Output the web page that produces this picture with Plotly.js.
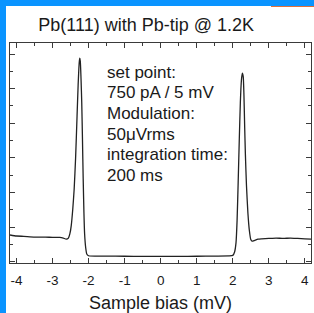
<!DOCTYPE html>
<html>
<head>
<meta charset="utf-8">
<script src="https://cdn.plot.ly/plotly-3.0.1.min.js"></script>
<style>
  html, body { margin: 0; padding: 0; width: 314px; height: 313px; overflow: hidden; background: #0a94ff; }
  #chart { position: absolute; left: 6px; top: 6px; width: 308px; height: 307px; background: #fff; }
  #strip { position: absolute; left: 271px; top: 6px; width: 43px; height: 1px; background: #e0703a; }
</style>
</head>
<body>
<div id="chart"></div>
<div id="strip"></div>
<script>
// Sample bias (mV)
const biasMV = [-4.18, -4.0, -3.8, -3.5, -3.2, -3.0, -2.8, -2.7, -2.62, -2.56, -2.52, -2.48, -2.44, -2.40, -2.36, -2.32, -2.29, -2.26, -2.245, -2.23, -2.21, -2.19, -2.17, -2.15, -2.13, -2.11, -2.08, -2.05, -2.00, -1.5, -1.0, -0.5, 0, 0.5, 1.0, 1.5, 1.9, 2.0, 2.05, 2.09, 2.12, 2.15, 2.18, 2.21, 2.24, 2.265, 2.29, 2.31, 2.33, 2.35, 2.38, 2.42, 2.46, 2.50, 2.54, 2.6, 2.7, 2.8, 3.0, 3.2, 3.4, 3.6, 3.8, 4.0, 4.17];
// dI/dV (arb. units)
const dIdV = [0.77, 0.74, 0.73, 0.71, 0.71, 0.70, 0.70, 0.68, 0.65, 0.68, 0.80, 1.05, 1.50, 2.10, 3.00, 4.20, 5.10, 5.75, 5.88, 5.80, 5.30, 4.60, 3.55, 2.40, 1.45, 0.80, 0.40, 0.22, 0.17, 0.16, 0.155, 0.15, 0.15, 0.15, 0.155, 0.16, 0.165, 0.18, 0.28, 0.55, 1.20, 2.30, 3.50, 4.60, 5.25, 5.45, 5.35, 4.80, 3.90, 3.10, 2.20, 1.40, 0.90, 0.64, 0.59, 0.61, 0.65, 0.66, 0.67, 0.68, 0.67, 0.68, 0.67, 0.66, 0.65];
const xTickVals = [-4, -3, -2, -1, 0, 1, 2, 3, 4];
const xTickText = ['-4', '-3', '-2', '-1', '0', '1', '2', '3', '4'];
const titleText = 'Pb(111) with Pb-tip @ 1.2K';
const xTitleText = 'Sample bias (mV)';
const noteLines = ['set point:', '750 pA / 5 mV', 'Modulation:', '50μVrms', 'integration time:', '200 ms'];

const FONT = 'Arial, "Liberation Sans", sans-serif';
const INK = '#1a1a1a';
const AX = '#3a3a3a';

const annotations = noteLines.map((t, i) => ({
  text: t, xref: 'paper', yref: 'paper',
  x: 0.316, y: (263 - (72 + i * 20.7)) / 220,
  xanchor: 'left', yanchor: 'middle', showarrow: false,
  font: {family: FONT, size: 17, color: INK}
}));

const trace = {
  x: biasMV, y: dIdV, type: 'scatter', mode: 'lines',
  line: {color: '#222', width: 1.3, shape: 'spline', smoothing: 0.5},
  hoverinfo: 'skip'
};

const layout = {
  width: 308, height: 307,
  margin: {l: 4, r: 3, t: 37, b: 50},
  paper_bgcolor: '#fff', plot_bgcolor: '#fff',
  showlegend: false,
  title: {text: titleText, font: {family: FONT, size: 18, color: INK},
          xref: 'container', yref: 'container', x: 0.455, y: 0.938, xanchor: 'center', yanchor: 'middle'},
  xaxis: {
    range: [-4.18, 4.17], tickvals: xTickVals, ticktext: xTickText,
    ticks: 'inside', ticklen: 5, tickwidth: 1, tickcolor: AX,
    minor: {dtick: 0.5, tick0: 0, ticks: 'inside', ticklen: 3, tickcolor: AX, showgrid: false},
    showline: true, linecolor: AX, linewidth: 1, mirror: 'ticks',
    showgrid: false, zeroline: false,
    ticklabelstandoff: 5,
    tickfont: {family: FONT, size: 13.5, color: INK},
    title: {text: xTitleText, font: {family: FONT, size: 18, color: INK}, standoff: 10}
  },
  yaxis: {
    range: [-0.04, 6.32], dtick: 1, tick0: 0,
    ticks: 'inside', ticklen: 5, tickwidth: 1, tickcolor: AX,
    minor: {dtick: 0.5, tick0: 0, ticks: 'inside', ticklen: 3, tickcolor: AX, showgrid: false},
    showline: true, linecolor: AX, linewidth: 1, mirror: 'ticks',
    showgrid: false, zeroline: false, showticklabels: false
  },
  annotations: annotations
};

Plotly.newPlot('chart', [trace], layout, {staticPlot: true, displayModeBar: false});
</script>
</body>
</html>
